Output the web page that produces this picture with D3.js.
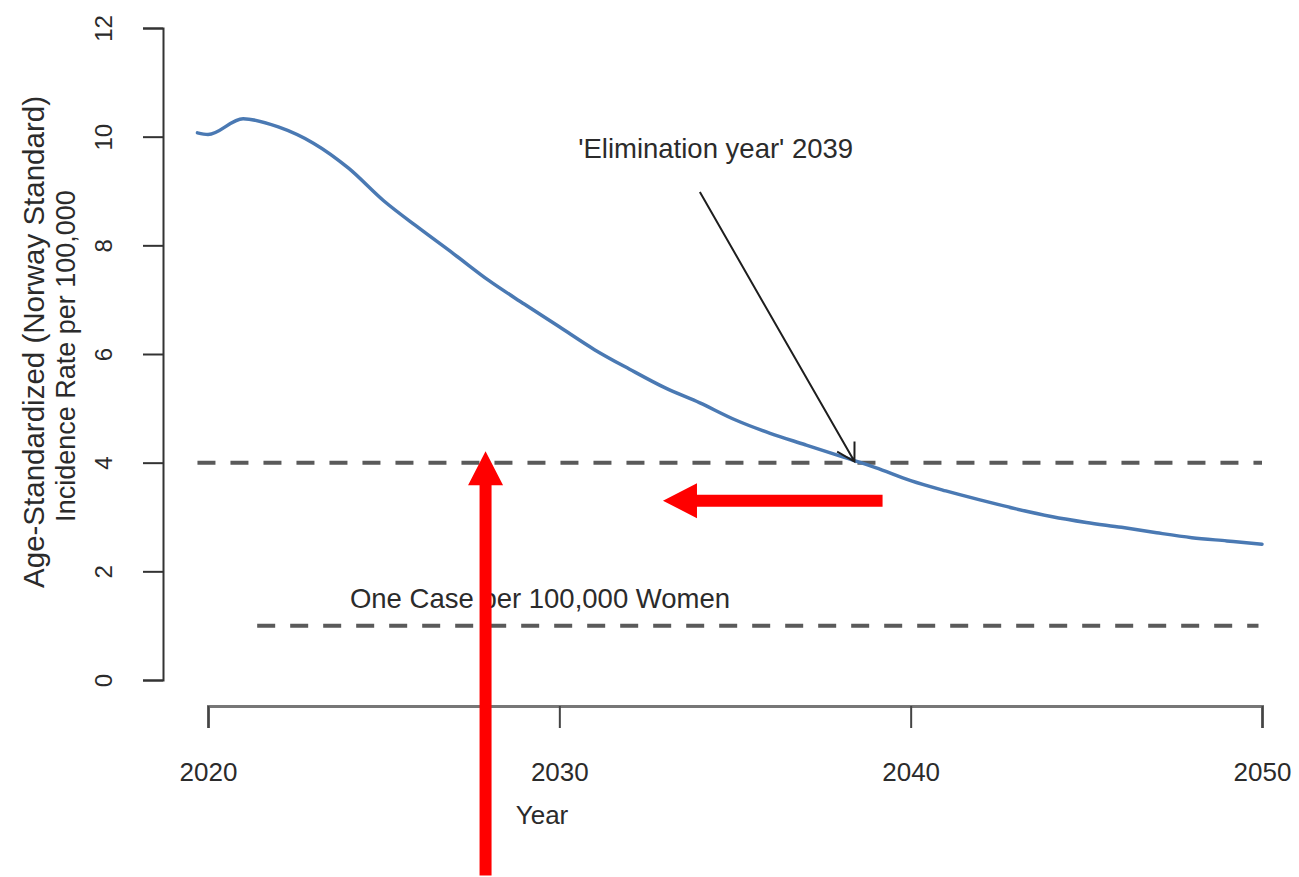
<!DOCTYPE html>
<html>
<head>
<meta charset="utf-8">
<script src="https://cdn.jsdelivr.net/npm/d3@7"></script>
<style>
  html, body { margin: 0; padding: 0; background: #fff; }
  svg { display: block; font-family: "Liberation Sans", Arial, Helvetica, sans-serif; }
</style>
</head>
<body>
<svg id="chart" width="1299" height="877"></svg>
<script>
// Projected age-standardized incidence (Norway standard), per 100,000 women
const years = [2019.7, 2020, 2021, 2022, 2023, 2024, 2025, 2026, 2027, 2028, 2029,
               2030, 2031, 2032, 2033, 2034, 2035, 2036, 2037, 2038, 2039,
               2040, 2041, 2042, 2043, 2044, 2045, 2046, 2047, 2048, 2049, 2050];
const rates = [10.07, 10.04, 10.33, 10.18, 9.88, 9.42, 8.82, 8.32, 7.84, 7.35, 6.92,
               6.50, 6.08, 5.72, 5.38, 5.10, 4.79, 4.54, 4.33, 4.12, 3.91,
               3.67, 3.48, 3.31, 3.15, 3.01, 2.90, 2.81, 2.71, 2.62, 2.56, 2.50];

const yTicks = [0, 2, 4, 6, 8, 10, 12];
const xTicks = [2020, 2030, 2040, 2050];
const xTickLabels = ["2020", "2030", "2040", "2050"];

// Reference levels: elimination threshold and one case per 100,000
const thresholdLevel = 4;
const thresholdSpan = [2019.7, 2050.0];
const oneCaseLevel = 1;
const oneCaseSpan = [2021.4, 2049.9];

// Text annotations [year, value]
const elimLabel = { text: "'Elimination year' 2039", at: [2034.45, 9.79] };
const elimPointer = { from: [2034.0, 8.98], to: [2038.4, 4.02] };
const oneCaseLabel = { text: "One Case per 100,000 Women", at: [2029.45, 1.5] };

// Highlight arrows [year, value] from tail to tip
const redArrows = [
  { from: [2027.9, -3.6], to: [2027.9, 4.21] },
  { from: [2039.2, 3.30], to: [2032.95, 3.30] }
];

const svg = d3.select("#chart");

const x = d3.scaleLinear().domain([2020, 2050]).range([208, 1262]);
const y = d3.scaleLinear().domain([0, 12]).range([680, 28]);

const textColor = "#2b2b2b";

// Y axis (R style, detached from the x axis)
const yAxis = d3.axisLeft(y).tickValues(yTicks).tickSize(20).tickFormat(d3.format("d"));
const gy = svg.append("g").attr("transform", "translate(163,0)").call(yAxis);
gy.select(".domain").attr("stroke", "#333").attr("stroke-width", 2);
gy.selectAll(".tick line").attr("stroke", "#333").attr("stroke-width", 2);
gy.selectAll(".tick text")
  .attr("fill", textColor)
  .attr("font-size", 24)
  .attr("x", null).attr("dy", null)
  .attr("text-anchor", "middle")
  .attr("dominant-baseline", "central")
  .attr("transform", "translate(-60,0) rotate(-90)");

// X axis
const xAxis = d3.axisBottom(x).tickValues(xTicks).tickSize(22)
  .tickFormat((d, i) => xTickLabels[i]);
const gx = svg.append("g").attr("transform", "translate(0,706)").call(xAxis);
gx.select(".domain").attr("stroke", "#777").attr("stroke-width", 3);
gx.selectAll(".tick line").attr("stroke", "#444").attr("stroke-width", 2);
gx.selectAll(".tick text")
  .attr("fill", textColor)
  .attr("font-size", 26)
  .attr("y", 0).attr("dy", null)
  .attr("dominant-baseline", "central")
  .attr("transform", "translate(0,66)");

// Axis titles
svg.append("text")
  .attr("x", 542).attr("y", 815)
  .attr("text-anchor", "middle").attr("dominant-baseline", "central")
  .attr("font-size", 26).attr("fill", textColor)
  .text("Year");

svg.append("text")
  .attr("transform", "translate(33,342) rotate(-90)")
  .attr("text-anchor", "middle").attr("dominant-baseline", "central")
  .attr("font-size", 29.5).attr("fill", textColor)
  .text("Age-Standardized (Norway Standard)");

svg.append("text")
  .attr("transform", "translate(66,356) rotate(-90)")
  .attr("text-anchor", "middle").attr("dominant-baseline", "central")
  .attr("font-size", 27).attr("fill", textColor)
  .text("Incidence Rate per 100,000");

// Dashed reference lines
const refLines = [
  { level: thresholdLevel, span: thresholdSpan },
  { level: oneCaseLevel, span: oneCaseSpan }
];
svg.selectAll("line.ref").data(refLines).enter().append("line")
  .attr("class", "ref")
  .attr("x1", d => x(d.span[0])).attr("x2", d => x(d.span[1]))
  .attr("y1", d => y(d.level)).attr("y2", d => y(d.level))
  .attr("stroke", "#5a5a5a").attr("stroke-width", 4)
  .attr("stroke-dasharray", "18,15");

// Incidence curve
const line = d3.line().x((d, i) => x(years[i])).y(d => y(d)).curve(d3.curveMonotoneX);
svg.append("path")
  .datum(rates)
  .attr("d", line)
  .attr("fill", "none")
  .attr("stroke", "#4a79b3")
  .attr("stroke-width", 3.5)
  .attr("stroke-linejoin", "round")
  .attr("stroke-linecap", "round");

// Annotation labels
svg.append("text")
  .attr("x", x(elimLabel.at[0])).attr("y", y(elimLabel.at[1]))
  .attr("text-anchor", "middle").attr("dominant-baseline", "central")
  .attr("font-size", 27.5).attr("fill", textColor)
  .text(elimLabel.text);

svg.append("text")
  .attr("x", x(oneCaseLabel.at[0])).attr("y", y(oneCaseLabel.at[1]))
  .attr("text-anchor", "middle").attr("dominant-baseline", "central")
  .attr("font-size", 27.5).attr("fill", textColor)
  .text(oneCaseLabel.text);

// Pointer arrow to the crossing point (open head)
{
  const x0 = x(elimPointer.from[0]), y0 = y(elimPointer.from[1]);
  const x1 = x(elimPointer.to[0]), y1 = y(elimPointer.to[1]);
  const ang = Math.atan2(y1 - y0, x1 - x0);
  const len = 20, spread = Math.PI / 6;
  const p = d3.path();
  p.moveTo(x0, y0); p.lineTo(x1, y1);
  p.moveTo(x1 - len * Math.cos(ang - spread), y1 - len * Math.sin(ang - spread));
  p.lineTo(x1, y1);
  p.lineTo(x1 - len * Math.cos(ang + spread), y1 - len * Math.sin(ang + spread));
  svg.append("path").attr("d", p.toString())
    .attr("fill", "none").attr("stroke", "#1e1e1e").attr("stroke-width", 2);
}

// Red highlight arrows
const shaftW = 12, headHalf = 17.5, headLen = 34;
redArrows.forEach(a => {
  const x0 = x(a.from[0]), y0 = y(a.from[1]);
  const x1 = x(a.to[0]), y1 = y(a.to[1]);
  const ang = Math.atan2(y1 - y0, x1 - x0);
  const L = Math.hypot(x1 - x0, y1 - y0);
  const g = svg.append("g")
    .attr("transform", `translate(${x0},${y0}) rotate(${ang * 180 / Math.PI})`);
  g.append("path")
    .attr("d", `M0,${-shaftW / 2} L${L - headLen},${-shaftW / 2} L${L - headLen},${-headHalf}
                L${L},0 L${L - headLen},${headHalf} L${L - headLen},${shaftW / 2} L0,${shaftW / 2} Z`)
    .attr("fill", "#ff0000");
});
</script>
</body>
</html>
